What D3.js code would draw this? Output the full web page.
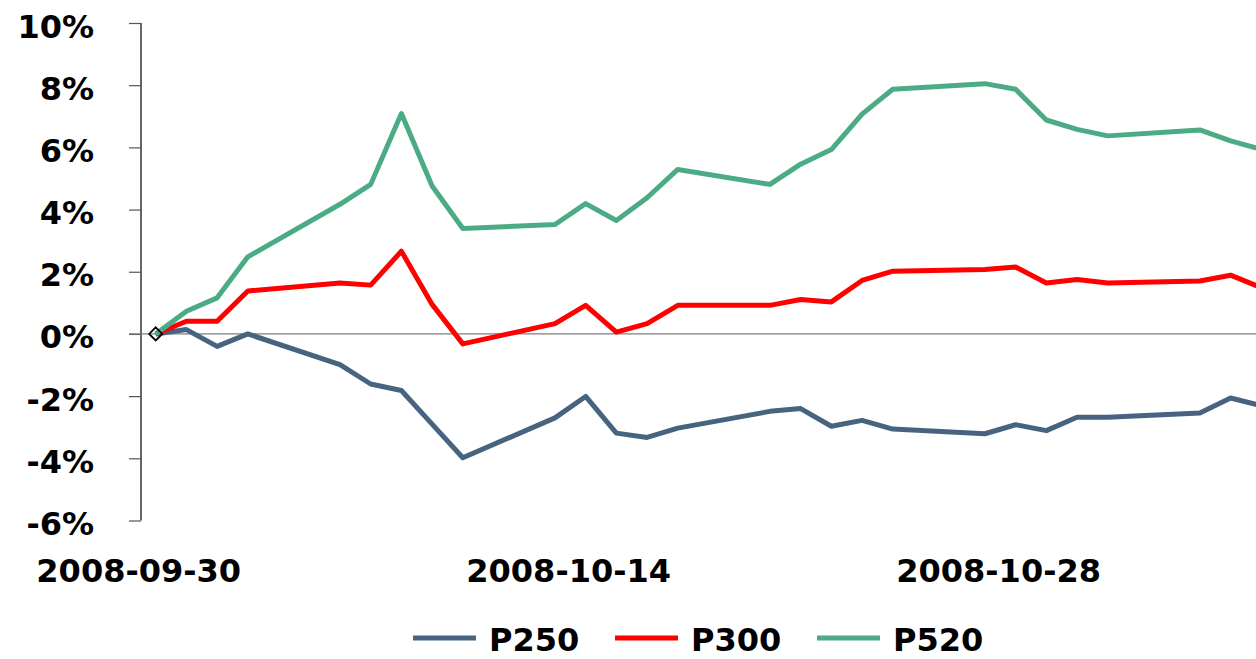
<!DOCTYPE html>
<html>
<head>
<meta charset="utf-8">
<script src="https://cdn.jsdelivr.net/npm/d3@7"></script>
<style>
  html, body { margin: 0; padding: 0; background: #fff; }
  svg { display: block; }
  text { font-family: "DejaVu Sans", Verdana, sans-serif; font-weight: bold; }
</style>
</head>
<body>
<svg id="chart" width="1256" height="659"></svg>
<script>
// ---- data ----
const dates = ["2008-09-30","2008-10-01","2008-10-02","2008-10-03","2008-10-06","2008-10-07","2008-10-08","2008-10-09","2008-10-10",
  "2008-10-13","2008-10-14","2008-10-15","2008-10-16","2008-10-17","2008-10-20","2008-10-21","2008-10-22","2008-10-23","2008-10-24",
  "2008-10-27","2008-10-28","2008-10-29","2008-10-30","2008-10-31","2008-11-03","2008-11-04","2008-11-05"];
const p250 = [0, 0.14, -0.40, 0, -0.99, -1.61, -1.82, -2.90, -3.98, -2.70, -2.01, -3.19, -3.33, -3.03, -2.49, -2.40, -2.97, -2.78, -3.06, -3.21, -2.92, -3.11, -2.68, -2.68, -2.54, -2.06, -2.31];
const p300 = [0, 0.41, 0.41, 1.38, 1.64, 1.57, 2.66, 0.95, -0.32, 0.33, 0.92, 0.06, 0.33, 0.92, 0.92, 1.11, 1.03, 1.72, 2.02, 2.07, 2.15, 1.64, 1.75, 1.64, 1.70, 1.89, 1.49];
const p520 = [0, 0.73, 1.16, 2.48, 4.17, 4.81, 7.09, 4.76, 3.39, 3.52, 4.19, 3.65, 4.38, 5.29, 4.81, 5.46, 5.93, 7.07, 7.87, 8.05, 7.87, 6.88, 6.58, 6.37, 6.56, 6.21, 5.94];
const seriesNames = ["P250", "P300", "P520"];
const seriesColors = ["#46637f", "#ff0000", "#4bab85"];
const yTicks = [-6, -4, -2, 0, 2, 4, 6, 8, 10];
const xTickLabels = ["2008-09-30", "2008-10-14", "2008-10-28"];

// ---- setup ----
const parse = d3.utcParse("%Y-%m-%d");
const svg = d3.select("#chart");
const W = 1256, H = 659;

const x = d3.scaleUtc()
  .domain([parse("2008-09-30"), parse("2008-11-04")])
  .range([155.7, 1230.6]);
const y = d3.scaleLinear().domain([-6, 10]).range([520.5, 23]);

const series = [p250, p300, p520].map((vals, i) => ({
  name: seriesNames[i],
  color: seriesColors[i],
  values: vals.map((v, j) => ({ date: parse(dates[j]), v }))
}));

svg.append("defs").append("clipPath").attr("id", "plotclip")
  .append("rect").attr("x", 141).attr("y", 0).attr("width", W - 141).attr("height", H);

// y axis
const yAxis = d3.axisLeft(y).tickValues(yTicks).tickSize(12).tickPadding(0)
  .tickFormat(d => d + "%");
const gy = svg.append("g").attr("transform", "translate(141,0)").call(yAxis);
gy.select(".domain").attr("stroke", "#000").attr("stroke-width", 1.2)
  .attr("d", `M0,${y(10)}V${y(-6)}`);
gy.selectAll(".tick line").attr("stroke", "#555").attr("stroke-width", 1.2);
gy.selectAll(".tick text")
  .attr("x", -47).attr("dy", 0).attr("y", 14)
  .attr("fill", "#000")
  .style("font-size", "32px")
  .style("font-family", "'DejaVu Sans', Verdana, sans-serif")
  .style("font-weight", "bold");

// zero line
svg.append("line")
  .attr("x1", 129).attr("x2", W)
  .attr("y1", y(0)).attr("y2", y(0))
  .attr("stroke", "#7f7f7f").attr("stroke-width", 1.3);

// x labels
const xLabelScale = x.copy().range([155.7 - 17.5, 1230.6 - 17.5]);
const xAxis = d3.axisBottom(xLabelScale)
  .tickValues(xTickLabels.map(parse))
  .tickSize(0).tickPadding(0)
  .tickFormat(d3.utcFormat("%Y-%m-%d"));
const gx = svg.append("g").attr("transform", "translate(0,582)").call(xAxis);
gx.select(".domain").remove();
gx.selectAll(".tick text")
  .attr("y", 0).attr("dy", 0)
  .attr("fill", "#000")
  .style("font-size", "32px")
  .style("font-family", "'DejaVu Sans', Verdana, sans-serif")
  .style("font-weight", "bold");

// lines
const line = d3.line().x(d => x(d.date)).y(d => y(d.v));
const gl = svg.append("g").attr("clip-path", "url(#plotclip)");
gl.selectAll("path.series")
  .data(series)
  .join("path")
  .attr("class", "series")
  .attr("fill", "none")
  .attr("stroke", d => d.color)
  .attr("stroke-width", 5)
  .attr("stroke-linejoin", "round")
  .attr("d", d => line(d.values));

// diamond marker at the start
svg.append("path")
  .attr("d", d3.symbol().type(d3.symbolDiamond2).size(110)())
  .attr("transform", `translate(${x(parse(dates[0]))},${y(p250[0])})`)
  .attr("fill", "none")
  .attr("stroke", "#000")
  .attr("stroke-width", 1.8);

// legend
const lg = svg.append("g");
const items = lg.selectAll("g.item").data(series).join("g")
  .attr("class", "item")
  .attr("transform", (d, i) => `translate(${413 + i * 202},0)`);
items.append("line")
  .attr("x1", 0).attr("x2", 63)
  .attr("y1", 638).attr("y2", 638)
  .attr("stroke", d => d.color).attr("stroke-width", 5);
items.append("text")
  .attr("x", 76).attr("y", 651)
  .attr("fill", "#000")
  .style("font-size", "32px")
  .text(d => d.name);
</script>
</body>
</html>
